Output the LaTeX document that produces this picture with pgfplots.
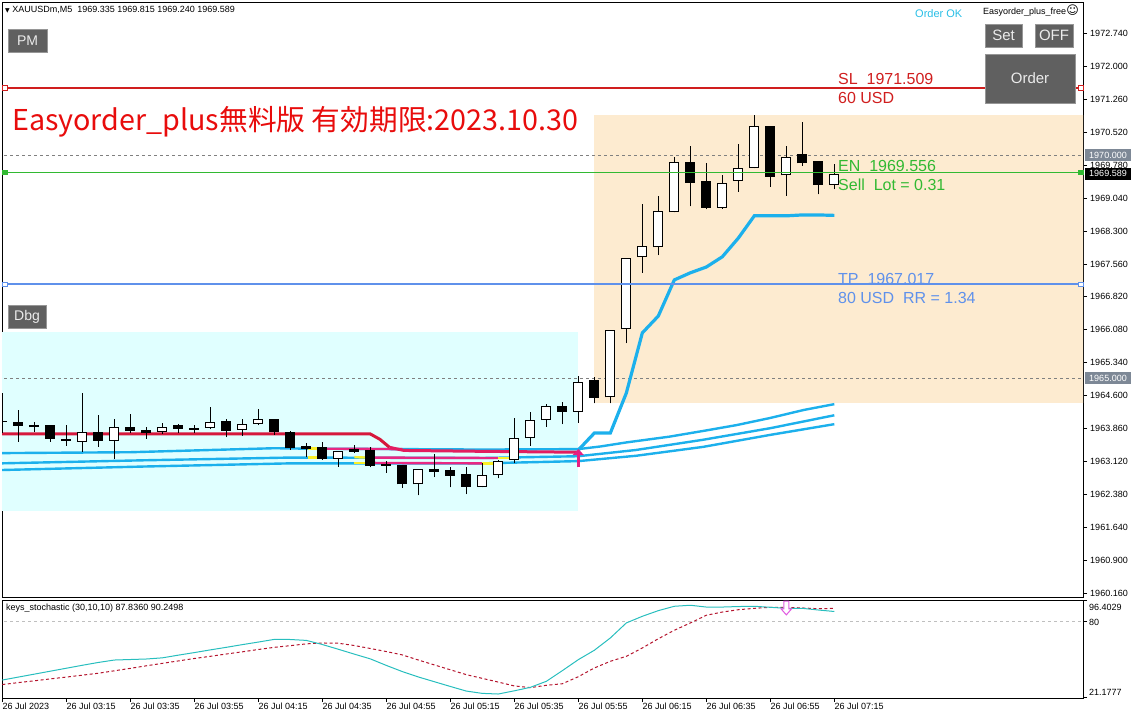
\documentclass[border=0pt]{standalone}
\usepackage{fontspec}
\setmainfont{Liberation Sans}
\newfontfamily\cjk{Noto Sans CJK JP}
\newfontfamily\dejavu{DejaVu Sans}
\usepackage{pgfplots}
\pgfplotsset{compat=1.18}
\usepackage{pgfplotstable}
\usetikzlibrary{arrows.meta}
\newcommand{\fs}[1]{\fontsize{#1}{#1}\selectfont}

\definecolor{bgcyan}{RGB}{224,255,255}
\definecolor{bgpeach}{RGB}{253,235,208}
\definecolor{indblue}{RGB}{28,176,236}
\definecolor{crim}{RGB}{214,24,60}
\definecolor{crimpink}{RGB}{226,30,96}
\definecolor{pinkseg}{RGB}{232,40,130}
\definecolor{yel}{RGB}{250,240,40}
\definecolor{slred}{RGB}{208,30,30}
\definecolor{engreen}{RGB}{50,185,50}
\definecolor{tpblue}{RGB}{95,145,235}
\definecolor{btn}{RGB}{96,96,96}
\definecolor{btnedge}{RGB}{150,150,150}
\definecolor{stochcyan}{RGB}{40,190,190}
\definecolor{stochred}{RGB}{180,20,45}
\definecolor{slate}{RGB}{125,136,150}
\definecolor{orderok}{RGB}{40,190,230}
\definecolor{arrowpink}{RGB}{230,30,130}
\definecolor{orchidc}{RGB}{225,90,225}

\pgfplotsset{
  candle/.style 2 args={only marks, mark=none, mark options={draw=none, fill=none}, mark size=0pt, forget plot,
    error bars/.cd, y dir=plus, y explicit, error mark=none,
    error bar style={line width=#1, draw=#2, solid}},
}

% bullish candles: bar index, open, high, low, close
\pgfplotstableread{
k O H L C
5 1963.57 1964.65 1963.34 1963.78
7 1963.59 1964.07 1963.18 1963.90
10 1963.79 1963.99 1963.74 1963.90
13 1963.87 1964.35 1963.85 1964.02
15 1963.84 1964.07 1963.70 1963.96
16 1963.96 1964.29 1963.94 1964.07
21 1963.18 1963.35 1963.00 1963.35
26 1962.61 1962.95 1962.36 1962.95
30 1962.56 1963.08 1962.54 1962.81
31 1962.81 1963.16 1962.74 1963.13
32 1963.15 1964.09 1963.08 1963.64
33 1963.64 1964.23 1963.47 1964.05
34 1964.05 1964.42 1963.90 1964.36
36 1964.24 1965.04 1963.99 1964.91
38 1964.56 1966.08 1964.43 1966.08
39 1966.09 1967.69 1965.78 1967.69
40 1967.71 1968.91 1967.36 1967.96
41 1967.93 1969.09 1967.76 1968.75
42 1968.72 1969.96 1968.72 1969.84
45 1968.82 1969.56 1968.80 1969.37
46 1969.42 1970.25 1969.18 1969.71
47 1969.71 1970.91 1969.71 1970.66
49 1969.55 1970.21 1969.09 1969.97
52 1969.335 1969.815 1969.240 1969.589
}\bulls

% bearish candles
\pgfplotstableread{
k O H L C
0 1964.03 1964.66 1963.76 1964.01
1 1964.00 1964.28 1963.57 1963.93
2 1963.92 1964.02 1963.79 1963.89
3 1963.92 1963.94 1963.57 1963.63
4 1963.62 1963.94 1963.48 1963.59
6 1963.78 1964.17 1963.45 1963.59
8 1963.89 1964.19 1963.76 1963.81
9 1963.82 1963.90 1963.63 1963.76
11 1963.92 1963.96 1963.76 1963.85
12 1963.87 1963.94 1963.76 1963.84
14 1964.02 1964.07 1963.67 1963.81
17 1964.07 1964.08 1963.72 1963.78
18 1963.78 1963.81 1963.38 1963.42
19 1963.45 1963.54 1963.22 1963.41
20 1963.44 1963.56 1963.16 1963.18
22 1963.40 1963.49 1963.32 1963.34
23 1963.36 1963.45 1962.99 1963.02
24 1963.06 1963.14 1962.87 1963.03
25 1963.02 1963.02 1962.53 1962.61
27 1962.95 1963.29 1962.77 1962.89
28 1962.92 1962.99 1962.54 1962.80
29 1962.84 1962.99 1962.39 1962.56
35 1964.36 1964.45 1963.96 1964.24
37 1964.95 1965.03 1964.43 1964.55
43 1969.83 1970.21 1968.85 1969.38
44 1969.40 1969.83 1968.79 1968.82
48 1970.64 1970.66 1969.29 1969.52
50 1970.01 1970.75 1969.77 1969.82
51 1969.87 1969.87 1969.12 1969.33
}\bears

% stochastic main and signal
\pgfplotstableread{
k main signal
0 34.4 30.9
1 36.7 32.4
2 39.0 33.8
3 41.3 35.3
4 43.6 36.7
5 45.9 38.2
6 48.1 39.7
7 50.0 41.6
8 50.4 43.5
9 50.8 45.5
10 51.7 47.4
11 53.8 49.3
12 55.8 51.2
13 57.9 52.9
14 59.9 54.7
15 62.0 56.4
16 64.0 58.2
17 66.1 59.9
18 66.0 61.2
19 65.3 62.6
20 62.1 63.3
21 58.4 63.1
22 54.6 61.3
23 50.9 59.0
24 45.8 56.6
25 41.0 54.0
26 36.8 50.0
27 33.1 46.2
28 29.4 42.4
29 25.8 38.6
30 24.0 35.7
31 23.5 32.8
32 26.0 29.8
33 28.7 28.5
34 33.4 30.3
35 41.7 31.5
36 50.3 37.0
37 57.6 43.8
38 67.2 49.0
39 78.9 52.9
40 84.1 59.4
41 88.5 66.6
42 91.9 73.2
43 92.7 78.9
44 91.3 84.9
45 91.3 87.4
46 91.7 89.2
47 91.9 90.3
48 91.1 91.1
49 90.3 91.1
50 90.3 90.6
51 89.0 90.0
52 87.836 90.2498
}\stoch

\begin{document}
\begin{tikzpicture}[x=1pt,y=1pt]
\path[use as bounding box] (0,0) rectangle (1136,-720);

% ---------------- main price panel ----------------
\begin{axis}[
  at={(2pt,-2pt)}, anchor=north west, scale only axis,
  width=1081pt, height=595pt,
  xmin=-0.019, xmax=67.544, ymin=1960.078, ymax=1973.443,
  xtick=\empty,
  ytick={1960.16,1960.9,1961.64,1962.38,1963.12,1963.86,1964.6,1965.34,1966.08,1966.82,1967.56,1968.3,1969.04,1969.78,1970.52,1971.26,1972,1972.74},
  ytick pos=right, tick align=outside, major tick length=4pt,
  tick style={black, line width=0.8pt},
  scaled y ticks=false,
  yticklabel style={font=\fs{9}, inner sep=0pt, xshift=3pt},
  y tick label style={/pgf/number format/.cd, fixed, fixed zerofill, precision=3, 1000 sep={}, assume math mode=true},
  axis line style={black, line width=0.8pt},
]
% zones
\addplot[fill=bgcyan, draw=none, forget plot] coordinates {(-0.05,1962.01)(35.98,1962.01)(35.98,1966.03)(-0.05,1966.03)} -- cycle;
\addplot[fill=bgpeach, draw=none, forget plot] coordinates {(36.98,1964.44)(67.7,1964.44)(67.7,1970.905)(36.98,1970.905)} -- cycle;
% round-number lines
\addplot[gray, line width=0.7pt, dash pattern=on 3pt off 3pt, forget plot] coordinates {(-1,1970)(70,1970)};
\addplot[gray, line width=0.7pt, dash pattern=on 3pt off 3pt, forget plot] coordinates {(-1,1965)(70,1965)};
% channel lines
\addplot[indblue, line width=2.4pt, forget plot] coordinates {(-0.1,1963.31)(8,1963.33)(17,1963.42)(19,1963.41)(25,1963.40)(30,1963.39)(36,1963.40)(37.4,1963.46)(39,1963.55)(41.7,1963.68)(44,1963.82)(45.9,1963.94)(48,1964.10)(50.1,1964.28)(52,1964.41)};
\addplot[indblue, line width=2.4pt, forget plot] coordinates {(-0.1,1963.08)(9,1963.15)(18,1963.21)(30,1963.20)(36,1963.24)(39.6,1963.38)(43.8,1963.61)(48,1963.87)(52,1964.16)};
\addplot[indblue, line width=2.4pt, forget plot] coordinates {(-0.1,1962.93)(9,1963.01)(18,1963.08)(30,1963.08)(36,1963.13)(39.6,1963.25)(43.8,1963.45)(48,1963.72)(52,1963.96)};
% pink / yellow recolored stretches
\addplot[pinkseg, line width=2.4pt, forget plot] coordinates {(19.7,1963.41)(25,1963.40)};
\addplot[pinkseg, line width=2.4pt, forget plot] coordinates {(22.7,1963.21)(31,1963.20)};
\addplot[pinkseg, line width=2.4pt, forget plot] coordinates {(22.7,1963.09)(30,1963.08)};
\addplot[yel, line width=2.4pt, forget plot] coordinates {(19.1,1963.41)(19.7,1963.41)};
\addplot[yel, line width=2.4pt, forget plot] coordinates {(19.1,1963.21)(19.7,1963.21)};
\addplot[yel, line width=2.4pt, forget plot] coordinates {(22.0,1963.22)(22.7,1963.21)};
\addplot[yel, line width=2.4pt, forget plot] coordinates {(22.0,1963.09)(22.7,1963.09)};
\addplot[yel, line width=2.4pt, forget plot] coordinates {(30,1963.08)(30.7,1963.08)};
\addplot[yel, line width=2.4pt, forget plot] coordinates {(31,1963.20)(31.7,1963.20)};
% red line
\addplot[crim, line width=3pt, forget plot] coordinates {(-0.1,1963.74)(23,1963.74)(23.6,1963.62)(24.2,1963.44)};
\addplot[crimpink, line width=3pt, forget plot] coordinates {(24.2,1963.44)(25.1,1963.37)(30,1963.35)(36,1963.33)};
% trailing line
\addplot[indblue, line width=3.2pt, forget plot] coordinates {(36,1963.38)(37,1963.76)(38,1963.76)(39,1964.66)(40,1966.01)(41,1966.39)(42,1967.20)(43,1967.36)(44,1967.49)(45,1967.72)(46,1968.14)(47,1968.64)(48,1968.64)(49,1968.64)(50,1968.66)(51,1968.66)(52,1968.65)};
% signal arrow
\addplot[arrowpink, line width=2.5pt, -{Triangle[width=11pt,length=6pt]}, forget plot] coordinates {(36,1962.99)(36,1963.40)};
% candle wicks
\addplot[candle={1pt}{black}] table[x=k, y=L, y error expr=\thisrow{H}-\thisrow{L}] {\bulls};
\addplot[candle={1pt}{black}] table[x=k, y=L, y error expr=\thisrow{H}-\thisrow{L}] {\bears};
% candle bodies
\addplot[candle={10pt}{black}] table[x=k, y=C, y error expr=\thisrow{O}-\thisrow{C}+0.012] {\bears};
\addplot[candle={10pt}{black}] table[x=k, y=O, y error expr=\thisrow{C}-\thisrow{O}] {\bulls};
\addplot[candle={8pt}{white}] table[x=k, y expr=\thisrow{O}+0.0225, y error expr=\thisrow{C}-\thisrow{O}-0.045] {\bulls};
% order levels
\addplot[slred, line width=2pt, forget plot] coordinates {(-1,1971.51)(70,1971.51)};
\addplot[engreen, line width=1.3pt, forget plot] coordinates {(-1,1969.61)(70,1969.61)};
\addplot[tpblue, line width=2pt, forget plot] coordinates {(-1,1967.10)(70,1967.10)};
\addplot[only marks, mark=square*, mark size=2.3pt, mark options={fill=white, draw=slred, line width=1pt}, forget plot] coordinates {(0.17,1971.51)(67.42,1971.51)};
\addplot[only marks, mark=square*, mark size=2.3pt, mark options={fill=engreen, draw=engreen, line width=1pt}, forget plot] coordinates {(0.17,1969.61)(67.42,1969.61)};
\addplot[only marks, mark=square*, mark size=2.3pt, mark options={fill=white, draw=tpblue, line width=1pt}, forget plot] coordinates {(0.17,1967.10)(67.42,1967.10)};
\end{axis}

% ---------------- stochastic panel ----------------
\begin{axis}[
  at={(2pt,-600pt)}, anchor=north west, scale only axis,
  width=1081pt, height=98pt,
  xmin=-0.019, xmax=67.544, ymin=20.40, ymax=96.79,
  ytick={21.1777,80,96.4029}, yticklabels={,,}, ytick pos=right,
  xtick={0,4,...,52},
  xticklabels={26 Jul 2023,26 Jul 03:15,26 Jul 03:35,26 Jul 03:55,26 Jul 04:15,26 Jul 04:35,26 Jul 04:55,26 Jul 05:15,26 Jul 05:35,26 Jul 05:55,26 Jul 06:15,26 Jul 06:35,26 Jul 06:55,26 Jul 07:15},
  xtick pos=bottom, tick align=outside, major tick length=4pt,
  tick style={black, line width=0.8pt},
  xticklabel style={font=\fs{9}, anchor=north west, inner xsep=0pt, inner ysep=1pt},
  axis line style={black, line width=0.8pt},
]
\addplot[gray!50, line width=0.7pt, dash pattern=on 3pt off 3pt, forget plot] coordinates {(-1,80)(70,80)};
\addplot[stochred, line width=1pt, dash pattern=on 3pt off 2.5pt, forget plot] table[x=k, y=signal] {\stoch};
\addplot[stochcyan, line width=1pt, forget plot] table[x=k, y=main] {\stoch};
\addplot[orchidc, line width=1pt, fill=white, forget plot] coordinates {(48.84,96.0)(49.16,96.0)(49.16,89.9)(49.33,89.9)(49,85.2)(48.67,89.9)(48.84,89.9)} -- cycle;
\end{axis}

% ---------------- overlays: texts and buttons ----------------
\node[anchor=west, inner sep=0pt, font=\fs{9}] at (5,-10) {{\dejavu\fs{6}▼}\ XAUUSDm,M5\ \ 1969.335 1969.815 1969.240 1969.589};
\node[anchor=west, inner sep=0pt, font=\fs{11}, text=orderok] at (915,-14) {Order OK};
\node[anchor=west, inner sep=0pt, font=\fs{9}] at (983,-11) {Easyorder\_plus\_free{\dejavu\fs{12}☺}};
\node[anchor=west, inner sep=0pt, font=\fs{9}] at (6,-608) {keys\_stochastic (30,10,10) 87.8360 90.2498};

\node[anchor=west, inner sep=0pt, text={rgb,255:red,232;green,12;blue,12}] at (12,-122) {\cjk\fs{28.7}Easyorder\_plus無料版 有効期限:2023.10.30};

\begin{scope}[every node/.style={anchor=west, inner sep=0pt, font=\fs{16}}]
\node[text=slred] at (838,-79) {SL\ \ 1971.509};
\node[text=slred] at (838,-98) {60 USD};
\node[text=engreen] at (838,-166) {EN\ \ 1969.556};
\node[text=engreen] at (838,-185) {Sell\ \ Lot = 0.31};
\node[text=tpblue] at (838,-279) {TP\ \ 1967.017};
\node[text=tpblue] at (838,-298) {80 USD\ \ RR = 1.34};
\end{scope}

\begin{scope}[every node/.style={fill=btn, draw=btnedge, line width=1pt, text={rgb,255:red,235;green,235;blue,235}, inner sep=0pt}]
\node[minimum width=39pt, minimum height=23pt, font=\fs{14}] at (27.5,-40.5) {PM};
\node[minimum width=38pt, minimum height=23pt, font=\fs{14}] at (27,-316.5) {Dbg};
\node[minimum width=37pt, minimum height=23pt, font=\fs{15}] at (1003.5,-35.5) {Set};
\node[minimum width=38pt, minimum height=23pt, font=\fs{15}] at (1054,-35.5) {OFF};
\node[minimum width=90pt, minimum height=49pt, font=\fs{15}] at (1030,-78.5) {Order};
\end{scope}

% price boxes on the scale
\node[fill=slate, text=white, inner sep=0pt, minimum width=46pt, minimum height=12pt, font=\fs{9}] at (1108,-155.3) {1970.000};
\node[fill=slate, text=white, inner sep=0pt, minimum width=46pt, minimum height=12pt, font=\fs{9}] at (1108,-377.9) {1965.000};
\node[fill=black, text=white, inner sep=0pt, minimum width=46pt, minimum height=12pt, font=\fs{9}] at (1108,-173.6) {1969.589};

% stochastic scale labels
\node[anchor=west, inner sep=0pt, font=\fs{9}] at (1089,-607) {96.4029};
\node[anchor=west, inner sep=0pt, font=\fs{9}] at (1089,-622) {80};
\node[anchor=west, inner sep=0pt, font=\fs{9}] at (1089,-692) {21.1777};
\end{tikzpicture}
\end{document}
